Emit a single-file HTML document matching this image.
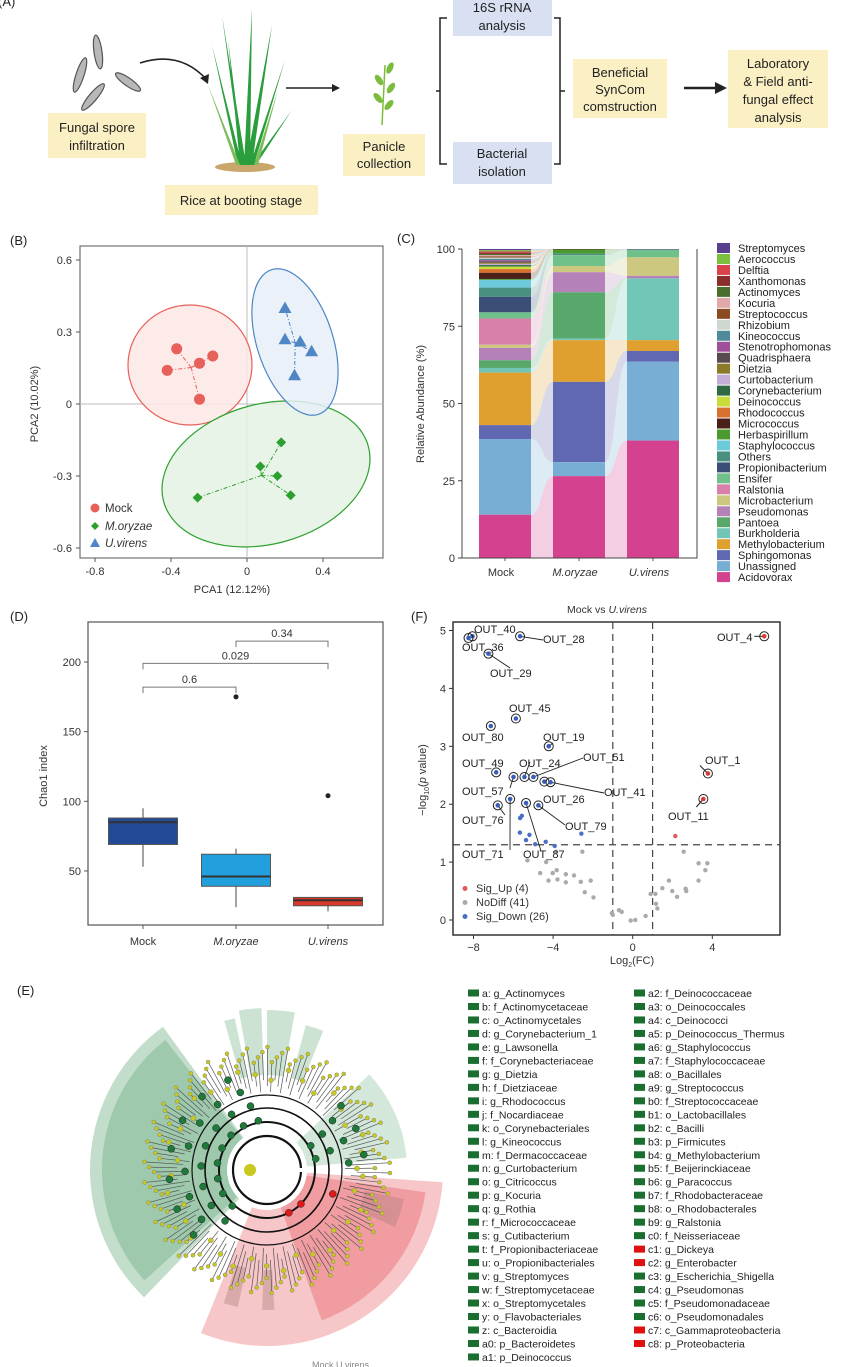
<!DOCTYPE html>
<html><head><meta charset="utf-8">
<style>
html,body{margin:0;padding:0;background:#fff;}
svg{display:block;font-family:"Liberation Sans",Arial,sans-serif;}
</style></head>
<body>
<svg id="fig" width="844" height="1367" viewBox="0 0 844 1367" xmlns="http://www.w3.org/2000/svg">
<g font-size="13" fill="#222">
  <text x="-2" y="6" font-size="13">(A)</text>
  <g fill="#b8b8b8" stroke="#555" stroke-width="1.2">
    <ellipse cx="98" cy="52" rx="4" ry="17" transform="rotate(-8 98 52)"/>
    <ellipse cx="80" cy="75" rx="4" ry="18" transform="rotate(18 80 75)"/>
    <ellipse cx="128" cy="82" rx="4" ry="15" transform="rotate(-55 128 82)"/>
    <ellipse cx="93" cy="97" rx="4" ry="17" transform="rotate(40 93 97)"/>
  </g>
  <path d="M140 63 Q180 50 207 80" fill="none" stroke="#222" stroke-width="1.5"/>
  <polygon points="208,84 200,78 209,74" fill="#222"/>
  <rect x="48" y="113" width="98" height="45" fill="#fbefc4"/>
  <text x="97" y="132" text-anchor="middle">Fungal spore</text>
  <text x="97" y="150" text-anchor="middle">infiltration</text>
  <g>
    <ellipse cx="245" cy="167" rx="30" ry="5" fill="#c9a66b"/>
    <path d="M240 165 L228 40 L244 165Z M244 165 L252 8 L250 165Z M246 165 L272 25 L252 165Z M238 165 L212 45 L242 165Z M250 165 L285 60 L254 165Z M242 165 L222 15 L246 165Z M252 165 L292 110 L256 165Z" fill="#2a9d3c"/>
    <path d="M236 165 L208 85 L240 165Z M254 165 L278 90 L258 165Z" fill="#7cbc5a"/>
  </g>
  <rect x="165" y="185" width="153" height="30" fill="#fbefc4"/>
  <text x="241" y="205" text-anchor="middle">Rice at booting stage</text>
  <line x1="286" y1="88" x2="333" y2="88" stroke="#222" stroke-width="1.5"/>
  <polygon points="340,88 332,84 332,92" fill="#222"/>
  <g fill="#7cbc3c">
    <line x1="382" y1="125" x2="385" y2="65" stroke="#7cbc3c" stroke-width="1.5"/>
    <ellipse cx="390" cy="68" rx="3" ry="6" transform="rotate(25 390 68)"/>
    <ellipse cx="379" cy="80" rx="3" ry="6" transform="rotate(-35 379 80)"/>
    <ellipse cx="391" cy="88" rx="3" ry="6" transform="rotate(35 391 88)"/>
    <ellipse cx="378" cy="98" rx="3" ry="6" transform="rotate(-40 378 98)"/>
    <ellipse cx="389" cy="105" rx="3" ry="6" transform="rotate(40 389 105)"/>
  </g>
  <rect x="343" y="134" width="82" height="42" fill="#fbefc4"/>
  <text x="384" y="151" text-anchor="middle">Panicle</text>
  <text x="384" y="168" text-anchor="middle">collection</text>
  <path d="M447 18 L440 18 L440 91 L436 91 M440 91 L440 164 L447 164" fill="none" stroke="#222" stroke-width="1.5"/>
  <path d="M554 18 L560 18 L560 91 L565 91 M560 91 L560 164 L554 164" fill="none" stroke="#222" stroke-width="1.5"/>
  <rect x="453" y="0" width="99" height="36" fill="#d8e0f2"/>
  <text x="502" y="12" text-anchor="middle">16S rRNA</text>
  <text x="502" y="30" text-anchor="middle">analysis</text>
  <rect x="453" y="142" width="99" height="42" fill="#d8e0f2"/>
  <text x="502" y="158" text-anchor="middle">Bacterial</text>
  <text x="502" y="176" text-anchor="middle">isolation</text>
  <rect x="573" y="59" width="94" height="59" fill="#fbefc4"/>
  <text x="620" y="77" text-anchor="middle">Beneficial</text>
  <text x="620" y="94" text-anchor="middle">SynCom</text>
  <text x="620" y="111" text-anchor="middle">comstruction</text>
  <line x1="684" y1="88" x2="716" y2="88" stroke="#222" stroke-width="2.5"/>
  <polygon points="727,88 715,82 715,94" fill="#222"/>
  <rect x="728" y="50" width="100" height="78" fill="#fbefc4"/>
  <text x="778" y="68" text-anchor="middle">Laboratory</text>
  <text x="778" y="86" text-anchor="middle">&amp; Field anti-</text>
  <text x="778" y="104" text-anchor="middle">fungal effect</text>
  <text x="778" y="122" text-anchor="middle">analysis</text>
</g>
<g id="gB"></g>
<g id="gC"></g>
<g id="gD"></g>
<g id="gF"></g>
<g id="gE"></g>
</svg>
<script>
const NS="http://www.w3.org/2000/svg";
function mk(parent,tag,attrs,txt){const e=document.createElementNS(NS,tag);for(const k in attrs)e.setAttribute(k,attrs[k]);if(txt!==undefined)e.textContent=txt;parent.appendChild(e);return e;}

/* ===== Panel B data ===== */
const pcaGroups=["Mock","M.oryzae","U.virens"];
const mockX=[-0.37,-0.42,-0.25,-0.18,-0.25];
const mockY=[0.23,0.14,0.17,0.20,0.02];
const moryX=[-0.26,0.07,0.18,0.16,0.23];
const moryY=[-0.39,-0.26,-0.16,-0.30,-0.38];
const uvirX=[0.20,0.20,0.28,0.34,0.25];
const uvirY=[0.40,0.27,0.26,0.22,0.12];
const pcaXTicks=[-0.8,-0.4,0,0.4];
const pcaYTicks=[0.6,0.3,0,-0.3,-0.6];

/* ===== Panel C data ===== */
const taxa=["Streptomyces","Aerococcus","Delftia","Xanthomonas","Actinomyces","Kocuria","Streptococcus","Rhizobium","Kineococcus","Stenotrophomonas","Quadrisphaera","Dietzia","Curtobacterium","Corynebacterium","Deinococcus","Rhodococcus","Micrococcus","Herbaspirillum","Staphylococcus","Others","Propionibacterium","Ensifer","Ralstonia","Microbacterium","Pseudomonas","Pantoea","Burkholderia","Methylobacterium","Sphingomonas","Unassigned","Acidovorax"];
const taxaColors=["#5b3f8f","#7bbf3f","#d9414b","#8b2d2d","#4a6e2e","#e0a8a8","#8b4a20","#cfd8d0","#4e8a9a","#a0509a","#5a4a50","#8b7a2a","#c4aed8","#2f6a45","#c8dc3c","#d87030","#4a2018","#4a9a30","#6ccada","#4a9080","#3a4e78","#70c08a","#d880aa","#ccc880","#b482b8","#58a86c","#72c6b8","#e0a030","#5f68b0","#78aed4","#d4418e"];
const abMock=[0.4,0.4,0.4,0.4,0.4,0.4,0.4,0.4,0.4,0.4,0.4,0.4,0.4,0.5,0.8,1.2,2,0.3,2.5,3,5,2,8.5,1,4,2.5,1.5,17,4.5,24.5,14];
const abMory=[0,0,0,0,0,0,0,0,0,0,0,0,0,0,0,0,0.2,1.3,0,0.5,0,3.5,0,2,6.5,15,0.5,13.5,26,4.5,26.5];
const abUvir=[0.2,0,0,0,0,0,0,0,0,0,0,0,0,0,0,0,0,0,0,0,0,2.5,0,6,0.8,0,20,3.5,3.5,25.5,38];
const abGroups=["Mock","M.oryzae","U.virens"];
const abTicks=[0,25,50,75,100];

/* ===== Panel D data ===== */
const chaoGroups=["Mock","M.oryzae","U.virens"];
const chaoMin=[53,24,21];
const chaoQ1=[69,39,25];
const chaoMed=[85,46,29];
const chaoQ3=[88,62,31];
const chaoMax=[95,66,31];
const chaoOutliers=[null,175,104];
const chaoColors=["#234a96","#22a0dd","#d8392b"];
const chaoTicks=[50,100,150,200];
const compPairs=[[0,1],[0,2],[1,2]];
const compP=["0.6","0.029","0.34"];
const compLevel=[182,199,215];

/* ===== Panel F data ===== */
const volTicksX=[-8,-4,0,4];
const volTicksY=[0,1,2,3,4,5];
const sigNames=["OUT_40","OUT_36","OUT_28","OUT_29","OUT_45","OUT_80","OUT_19","OUT_49","OUT_57","OUT_24","OUT_51","OUT_26","OUT_41","OUT_71","OUT_76","OUT_87","OUT_79"];
const sigFC=[-8.05,-8.25,-5.66,-7.25,-5.87,-7.13,-4.22,-6.86,-5.99,-5.44,-4.99,-4.44,-4.13,-6.16,-6.78,-5.36,-4.74];
const sigP=[4.9,4.87,4.9,4.6,3.48,3.35,3.0,2.55,2.47,2.47,2.47,2.39,2.38,2.09,1.98,2.02,1.98];
const upNames=["OUT_4","OUT_1","OUT_11"];
const upFC=[6.61,3.78,3.55];
const upP=[4.9,2.53,2.09];
const downFC=[-5.66,-5.57,-5.67,-5.19,-5.36,-4.9,-4.37,-3.92,-2.58];
const downP=[1.76,1.8,1.51,1.47,1.38,1.31,1.35,1.28,1.49];
const upOtherFC=[2.14];
const upOtherP=[1.45];
const nsFC=[-4.65,-4.02,-3.36,-2.95,-4.23,-3.78,-3.36,-2.61,-2.11,-2.41,-1.97,-1.05,-0.69,-0.10,0.13,0.65,0.90,1.14,1.17,1.24,1.49,1.82,1.99,2.23,2.66,2.69,2.56,3.31,3.75,3.65,3.31,-3.85,-2.53,-5.29,-4.35,-3.82,-1.0,-0.55];
const nsP=[0.81,0.81,0.79,0.77,0.68,0.70,0.65,0.66,0.68,0.48,0.39,0.12,0.17,-0.01,0.0,0.07,0.45,0.45,0.28,0.20,0.55,0.68,0.50,0.40,0.54,0.50,1.18,0.98,0.98,0.86,0.68,1.18,1.18,1.03,1.0,0.86,0.09,0.14];
const sigLabelPos=[[474,633],[462,651],[543,643],[490,677],[509,712],[462,741],[543,741],[462,767],[462,795],[519,767],[583,761],[543,803],[604,796],[462,858],[462,824],[523,858],[565,830]];
const sigLabelAnchor=[[0,0],[0,0],[543,640],[510,668],[0,0],[0,0],[553,743],[0,0],[510,788],[530,762],[583,758],[0,0],[604,793],[510,850],[505,815],[541,851],[565,825]];
const upLabelPos=[[717,641],[705,764],[668,820]];

/* ---------- Panel B ---------- */
(function(){
const g=document.getElementById("gB");
const X0=80,X1=383,Y0=246,Y1=558;
const sx=v=>247+v*190, sy=v=>404-v*240;
let t=mk(g,"text",{x:10,y:245,"font-size":13,fill:"#222"},"(B)");

let fr=mk(g,"rect",{x:X0,y:Y0,width:X1-X0,height:Y1-Y0,fill:"none",stroke:"#555","stroke-width":1});

mk(g,"line",{x1:sx(0),x2:sx(0),y1:Y0,y2:Y1,stroke:"#bbb"});
mk(g,"line",{x1:X0,x2:X1,y1:sy(0),y2:sy(0),stroke:"#bbb"});
pcaXTicks.forEach(v=>{mk(g,"line",{x1:sx(v),x2:sx(v),y1:Y1,y2:Y1+4,stroke:"#555"});
 let e=mk(g,"text",{x:sx(v),y:Y1+17,"font-size":11,"text-anchor":"middle",fill:"#333"},v===0?"0":v.toFixed(1));
 });
pcaYTicks.forEach(v=>{mk(g,"line",{x1:X0-4,x2:X0,y1:sy(v),y2:sy(v),stroke:"#555"});
 let e=mk(g,"text",{x:X0-8,y:sy(v)+4,"font-size":11,"text-anchor":"end",fill:"#333"},v===0?"0":v.toFixed(1));
 });
let xl=mk(g,"text",{x:232,y:593,"font-size":11,"text-anchor":"middle",fill:"#333"},"PCA1 (12.12%)");

let yl=mk(g,"text",{x:0,y:0,"font-size":11,"text-anchor":"middle",fill:"#333",transform:"translate(38,404) rotate(-90)"},"PCA2 (10.02%)");

const sets=[[mockX,mockY,"#e8605a","#fde8e6","circle"],[moryX,moryY,"#2ca02c","#e4f2e4","diamond"],[uvirX,uvirY,"#4f86c6","#e6eef8","tri"]];
const ell=[[190,365,62,60,0],[266,474,106,70,-15],[295,342,38,76,-18]];
sets.forEach((s,i)=>{
 const [xs,ys,c,f,sh]=s;
 let el=mk(g,"ellipse",{cx:ell[i][0],cy:ell[i][1],rx:ell[i][2],ry:ell[i][3],fill:f,"fill-opacity":0.85,stroke:c,"stroke-width":1.2,transform:`rotate(${ell[i][4]} ${ell[i][0]} ${ell[i][1]})`});
 
});
sets.forEach((s,i)=>{
 const [xs,ys,c,f,sh]=s;
 const cx=xs.reduce((a,b)=>a+b)/xs.length, cy=ys.reduce((a,b)=>a+b)/ys.length;
 xs.forEach((x,j)=>{mk(g,"line",{x1:sx(cx),y1:sy(cy),x2:sx(x),y2:sy(ys[j]),stroke:c,"stroke-width":1,"stroke-dasharray":"4 2 1 2"});});
 xs.forEach((x,j)=>{
  const px=sx(x),py=sy(ys[j]);let p;
  if(sh==="circle")p=mk(g,"circle",{cx:px,cy:py,r:5.5,fill:c});
  else if(sh==="diamond")p=mk(g,"polygon",{points:`${px},${py-5} ${px+5},${py} ${px},${py+5} ${px-5},${py}`,fill:c});
  else p=mk(g,"polygon",{points:`${px},${py-6.5} ${px+6.5},${py+5} ${px-6.5},${py+5}`,fill:c});
  
 });
});
const lg=[["Mock","circle","#e8605a",508,false],["M.oryzae","diamond","#2ca02c",526,true],["U.virens","tri","#4f86c6",543,true]];
lg.forEach(l=>{const px=95,py=l[3];
 if(l[1]==="circle")mk(g,"circle",{cx:px,cy:py,r:4.5,fill:l[2]});
 else if(l[1]==="diamond")mk(g,"polygon",{points:`${px},${py-4} ${px+4},${py} ${px},${py+4} ${px-4},${py}`,fill:l[2]});
 else mk(g,"polygon",{points:`${px},${py-5} ${px+5},${py+4} ${px-5},${py+4}`,fill:l[2]});
 let e=mk(g,"text",{x:105,y:py+4,"font-size":11.5,fill:"#333","font-style":l[4]?"italic":"normal"},l[0]);
 });
})();

/* ---------- Panel C ---------- */
(function(){
const g=document.getElementById("gC");
const X0=462,X1=697,Y0=249,Y1=558;
const sy=v=>558-v*3.09;
const barL=[479,553,627],bw=52;
let t=mk(g,"text",{x:397,y:243,"font-size":13,fill:"#222"},"(C)");

const data=[abMock,abMory,abUvir];
const stacks=data.map(arr=>{let cum=0;const lo=[],hi=[];for(let k=arr.length-1;k>=0;k--){lo[k]=cum;cum+=arr[k];hi[k]=cum;}return [lo,hi];});
for(let b=0;b<2;b++){
 for(let k=0;k<taxa.length;k++){
  const a=stacks[b],c=stacks[b+1];
  if(data[b][k]===0&&data[b+1][k]===0)continue;
  const x1=barL[b]+bw,x2=barL[b+1],m=(x1+x2)/2;
  const d=`M${x1},${sy(a[1][k])} C${m},${sy(a[1][k])} ${m},${sy(c[1][k])} ${x2},${sy(c[1][k])} L${x2},${sy(c[0][k])} C${m},${sy(c[0][k])} ${m},${sy(a[0][k])} ${x1},${sy(a[0][k])}Z`;
  let p=mk(g,"path",{d:d,fill:taxaColors[k],"fill-opacity":0.25});
  
 }
}
data.forEach((arr,b)=>{
 for(let k=0;k<arr.length;k++){ if(arr[k]===0)continue;
  let r=mk(g,"rect",{x:barL[b],y:sy(stacks[b][1][k]),width:bw,height:sy(stacks[b][0][k])-sy(stacks[b][1][k]),fill:taxaColors[k]});
  
 }
 let e=mk(g,"text",{x:barL[b]+bw/2-4,y:Y1+18,"font-size":11,"text-anchor":"middle",fill:"#333","font-style":b?"italic":"normal"},abGroups[b]);
 
 mk(g,"line",{x1:barL[b]+bw/2,x2:barL[b]+bw/2,y1:Y1,y2:Y1+3,stroke:"#555"});
});
let fr=mk(g,"path",{d:`M${X0},${Y0} L${X0},${Y1} L${X1},${Y1} L${X1},${Y0}`,fill:"none",stroke:"#444","stroke-width":1});

abTicks.forEach(v=>{mk(g,"line",{x1:X0-4,x2:X0,y1:sy(v),y2:sy(v),stroke:"#444"});
 let e=mk(g,"text",{x:X0-7,y:sy(v)+4,"font-size":11,"text-anchor":"end",fill:"#333"},String(v));
 });
let yl=mk(g,"text",{x:0,y:0,"font-size":11,"text-anchor":"middle",fill:"#333",transform:"translate(424,404) rotate(-90)"},"Relative Abundance (%)");

taxa.forEach((n,k)=>{const y=248+k*10.97;
 let r=mk(g,"rect",{x:717,y:y-5,width:13,height:10,fill:taxaColors[k]});
 
 let e=mk(g,"text",{x:738,y:y+4,"font-size":11,fill:"#222"},n);
 });
})();

/* ---------- Panel D ---------- */
(function(){
const g=document.getElementById("gD");
const X0=88,X1=383,Y0=622,Y1=925;
const sy=v=>662+(200-v)*1.393;
const cx=[143,236,328],bw=69;
let t=mk(g,"text",{x:10,y:621,"font-size":13,fill:"#222"},"(D)");

let fr=mk(g,"rect",{x:X0,y:Y0,width:X1-X0,height:Y1-Y0,fill:"none",stroke:"#555","stroke-width":1.2});

chaoTicks.forEach(v=>{mk(g,"line",{x1:X0-4,x2:X0,y1:sy(v),y2:sy(v),stroke:"#555"});
 let e=mk(g,"text",{x:X0-7,y:sy(v)+4,"font-size":11,"text-anchor":"end",fill:"#333"},String(v));
 });
let yl=mk(g,"text",{x:0,y:0,"font-size":11,"text-anchor":"middle",fill:"#333",transform:"translate(47,776) rotate(-90)"},"Chao1  index");

chaoGroups.forEach((n,i)=>{
 mk(g,"line",{x1:cx[i],x2:cx[i],y1:sy(chaoMin[i]),y2:sy(chaoMax[i]),stroke:"#666","stroke-width":1.2});
 let r=mk(g,"rect",{x:cx[i]-bw/2,y:sy(chaoQ3[i]),width:bw,height:sy(chaoQ1[i])-sy(chaoQ3[i]),fill:chaoColors[i],stroke:"#555","stroke-width":1});
 
 mk(g,"line",{x1:cx[i]-bw/2,x2:cx[i]+bw/2,y1:sy(chaoMed[i]),y2:sy(chaoMed[i]),stroke:"#333","stroke-width":2});
 if(chaoOutliers[i]!==null){let o=mk(g,"circle",{cx:cx[i],cy:sy(chaoOutliers[i]),r:2.5,fill:"#222"});}
 mk(g,"line",{x1:cx[i],x2:cx[i],y1:Y1,y2:Y1+4,stroke:"#555"});
 let e=mk(g,"text",{x:cx[i],y:Y1+20,"font-size":11,"text-anchor":"middle",fill:"#333","font-style":i?"italic":"normal"},n);
 
});
compPairs.forEach((p,i)=>{const y=sy(compLevel[i]);const a=cx[p[0]],b=cx[p[1]];
 let br=mk(g,"path",{d:`M${a},${y+6} L${a},${y} L${b},${y} L${b},${y+6}`,fill:"none",stroke:"#777","stroke-width":1});
 
 let e=mk(g,"text",{x:(a+b)/2,y:y-4,"font-size":11,"text-anchor":"middle",fill:"#333"},compP[i]);
 });
})();

/* ---------- Panel F ---------- */
(function(){
const g=document.getElementById("gF");
const X0=453,X1=780,Y0=622,Y1=935;
const sx=v=>632.7+v*19.9, sy=v=>920-v*57.9;
let t=mk(g,"text",{x:411,y:621,"font-size":13,fill:"#222"},"(F)");

let ti=mk(g,"text",{x:607,y:613,"font-size":10.5,"text-anchor":"middle",fill:"#333"},"");

mk(ti,"tspan",{},"Mock vs ");mk(ti,"tspan",{"font-style":"italic"},"U.virens");
let fr=mk(g,"rect",{x:X0,y:Y0,width:X1-X0,height:Y1-Y0,fill:"none",stroke:"#333","stroke-width":1.5});

volTicksX.forEach(v=>{mk(g,"line",{x1:sx(v),x2:sx(v),y1:Y1,y2:Y1+4,stroke:"#333"});
 let e=mk(g,"text",{x:sx(v),y:Y1+16,"font-size":11,"text-anchor":"middle",fill:"#333"},v<0?"\u2212"+(-v):String(v));
 });
volTicksY.forEach(v=>{mk(g,"line",{x1:X0-4,x2:X0,y1:sy(v),y2:sy(v),stroke:"#333"});
 let e=mk(g,"text",{x:X0-7,y:sy(v)+4,"font-size":11,"text-anchor":"end",fill:"#333"},String(v));
 });
let xl=mk(g,"text",{x:632,y:964,"font-size":11,"text-anchor":"middle",fill:"#333"},"Log");

mk(xl,"tspan",{"font-size":7,dy:3},"2");mk(xl,"tspan",{dy:-3},"(FC)");
let yl=mk(g,"text",{x:0,y:0,"font-size":11,"text-anchor":"middle",fill:"#333",transform:"translate(426,780) rotate(-90)"},"\u2212log");

mk(yl,"tspan",{"font-size":7,dy:3},"10");mk(yl,"tspan",{dy:-3},"(");mk(yl,"tspan",{"font-style":"italic"},"p");mk(yl,"tspan",{}," value)");
[[sx(-1),Y0,sx(-1),Y1],[sx(1),Y0,sx(1),Y1],[X0,sy(1.3),X1,sy(1.3)]].forEach(l=>{
 let e=mk(g,"line",{x1:l[0],y1:l[1],x2:l[2],y2:l[3],stroke:"#444","stroke-width":1.2,"stroke-dasharray":"7 5"});
 });
nsFC.forEach((v,i)=>{let c=mk(g,"circle",{cx:sx(v),cy:sy(nsP[i]),r:2.2,fill:"#aaa"});});
downFC.forEach((v,i)=>{let c=mk(g,"circle",{cx:sx(v),cy:sy(downP[i]),r:2.2,fill:"#4a6fc4"});});
upOtherFC.forEach((v,i)=>{let c=mk(g,"circle",{cx:sx(v),cy:sy(upOtherP[i]),r:2.2,fill:"#e05a5a"});});
sigFC.forEach((v,i)=>{const px=sx(v),py=sy(sigP[i]);
 const an=sigLabelAnchor[i];
 if(an[0]){mk(g,"line",{x1:px,y1:py,x2:an[0],y2:an[1],stroke:"#222","stroke-width":0.9});}
 mk(g,"circle",{cx:px,cy:py,r:4.5,fill:"none",stroke:"#222","stroke-width":1});
 let c=mk(g,"circle",{cx:px,cy:py,r:2.3,fill:"#3a5fb8"});
 let e=mk(g,"text",{x:sigLabelPos[i][0],y:sigLabelPos[i][1],"font-size":11,fill:"#222"},sigNames[i]);
 });
upFC.forEach((v,i)=>{const px=sx(v),py=sy(upP[i]);
 if(i===0)mk(g,"line",{x1:px,y1:py,x2:px-10,y2:py,stroke:"#222"});
 if(i===1)mk(g,"line",{x1:px,y1:py,x2:px-8,y2:py-8,stroke:"#222"});
 if(i===2)mk(g,"line",{x1:px,y1:py,x2:px-7,y2:py+8,stroke:"#222"});
 mk(g,"circle",{cx:px,cy:py,r:4.5,fill:"none",stroke:"#222","stroke-width":1});
 let c=mk(g,"circle",{cx:px,cy:py,r:2.3,fill:"#d83a3a"});
 let e=mk(g,"text",{x:upLabelPos[i][0],y:upLabelPos[i][1],"font-size":11,fill:"#222"},upNames[i]);
 });
[["Sig_Up (4)","#e05a5a",892],["NoDiff (41)","#aaa",906],["Sig_Down (26)","#4a6fc4",920]].forEach(l=>{
 mk(g,"circle",{cx:465,cy:l[2]-3.5,r:2.5,fill:l[1]});
 let e=mk(g,"text",{x:476,y:l[2],"font-size":11,fill:"#333"},l[0]);
 });
})();

/* ---------- Panel E ---------- */
(function(){
const g=document.getElementById("gE");
const CX=267,CY=1170;
const P=(r,d)=>[CX+r*Math.cos(d*Math.PI/180),CY-r*Math.sin(d*Math.PI/180)];
function wedge(r0,r1,a0,a1,fill,op,name){
 const p1=P(r1,a0),p2=P(r1,a1),p3=P(r0,a1),p4=P(r0,a0);const lg=(a1-a0)>180?1:0;
 let e=mk(g,"path",{d:`M${p4} L${p1} A${r1},${r1} 0 ${lg} 0 ${p2} L${p3} A${r0},${r0} 0 ${lg} 1 ${p4}Z`,fill:fill,"fill-opacity":op});
 }
let t=mk(g,"text",{x:17,y:995,"font-size":13,fill:"#222"},"(E)");

wedge(40,177,126,226,"#a9cfb5",0.7,"clade-bacteroidetes-firmicutes-bg");
wedge(40,165,128,222,"#7fb894",0.55,"clade-inner-green");
wedge(40,176,248,356,"#f4b3b6",0.75,"clade-proteobacteria-bg");
wedge(40,160,290,352,"#ec8185",0.6,"clade-gammaproteobacteria");
wedge(40,140,5,43,"#b6d7c1",0.6,"clade-actinobacteria-right");
wedge(95,150,68,75,"#b6d7c1",0.7,"clade-m");
wedge(95,160,80,90,"#b6d7c1",0.7,"clade-r");
wedge(95,162,92,100,"#b6d7c1",0.7,"clade-u");
wedge(95,155,102,106,"#b6d7c1",0.7,"clade-x");
wedge(100,140,336,348,"#b08080",0.4,"clade-c5");
wedge(100,140,268,273,"#b08080",0.4,"clade-b8");
wedge(100,140,252,258,"#b08080",0.4,"clade-b5");
mk(g,"circle",{cx:CX,cy:CY,r:34,fill:"#fff"});
[[34,2.2],[48,2],[62,1.6],[75,1.2]].forEach(a=>{let c=mk(g,"circle",{cx:CX,cy:CY,r:a[0],fill:"none",stroke:"#111","stroke-width":a[1]});});
mk(g,"rect",{x:CX+1,y:CY-2,width:40,height:4,fill:"#fff"});
for(let i=0;i<150;i++){
 const a=i*2.4+1;
 const r0=78+(i%3)*6, r1=108+((i*7)%4)*5;
 const p0=P(r0,a),p1=P(r1,a);
 mk(g,"line",{x1:p0[0],y1:p0[1],x2:p1[0],y2:p1[1],stroke:"#555","stroke-width":0.7});
 let d=mk(g,"circle",{cx:p1[0],cy:p1[1],r:2,fill:"#c8c81e",stroke:"#777","stroke-width":0.4});
 
 if(i%4===0){const pm=P(r0+12,a);mk(g,"circle",{cx:pm[0],cy:pm[1],r:2.5,fill:"#c8c81e",stroke:"#777","stroke-width":0.4});}
}
for(let i=0;i<40;i++){const a=(i<30)?(100+i*4.5):(5+(i-30)*4);
 const p=P(50+(i%4)*16,a);
 let d=mk(g,"circle",{cx:p[0],cy:p[1],r:3.5,fill:"#1e7a3a",stroke:"#222","stroke-width":0.5});
 }
[[48,297],[48,315],[70,340]].forEach(q=>{const p=P(q[0],q[1]);let d=mk(g,"circle",{cx:p[0],cy:p[1],r:3.5,fill:"#e01818",stroke:"#222","stroke-width":0.5});});
mk(g,"circle",{cx:CX-17,cy:CY,r:6,fill:"#c8c81e"});
let lb=mk(g,"text",{x:312,y:1368,"font-size":9,fill:"#888"},"Mock    U.virens");


const col1=["a: g_Actinomyces","b: f_Actinomycetaceae","c: o_Actinomycetales","d: g_Corynebacterium_1","e: g_Lawsonella","f: f_Corynebacteriaceae","g: g_Dietzia","h: f_Dietziaceae","i: g_Rhodococcus","j: f_Nocardiaceae","k: o_Corynebacteriales","l: g_Kineococcus","m: f_Dermacoccaceae","n: g_Curtobacterium","o: g_Citricoccus","p: g_Kocuria","q: g_Rothia","r: f_Micrococcaceae","s: g_Cutibacterium","t: f_Propionibacteriaceae","u: o_Propionibacteriales","v: g_Streptomyces","w: f_Streptomycetaceae","x: o_Streptomycetales","y: o_Flavobacteriales","z: c_Bacteroidia","a0: p_Bacteroidetes","a1: p_Deinococcus"];
const col2=["a2: f_Deinococcaceae","a3: o_Deinococcales","a4: c_Deinococci","a5: p_Deinococcus_Thermus","a6: g_Staphylococcus","a7: f_Staphylococcaceae","a8: o_Bacillales","a9: g_Streptococcus","b0: f_Streptococcaceae","b1: o_Lactobacillales","b2: c_Bacilli","b3: p_Firmicutes","b4: g_Methylobacterium","b5: f_Beijerinckiaceae","b6: g_Paracoccus","b7: f_Rhodobacteraceae","b8: o_Rhodobacterales","b9: g_Ralstonia","c0: f_Neisseriaceae","c1: g_Dickeya","c2: g_Enterobacter","c3: g_Escherichia_Shigella","c4: g_Pseudomonas","c5: f_Pseudomonadaceae","c6: o_Pseudomonadales","c7: c_Gammaproteobacteria","c8: p_Proteobacteria"];
const red2=[19,20,25,26];
[[col1,468],[col2,634]].forEach((c,ci)=>{c[0].forEach((s,k)=>{const y=993+k*13.48;
 let r=mk(g,"rect",{x:c[1],y:y-3.5,width:11,height:7,fill:(ci===1&&red2.includes(k))?"#e01010":"#1a6e30"});
 
 let e=mk(g,"text",{x:c[1]+14,y:y+4,"font-size":10.5,fill:"#222"},s);
 });});
})();
</script>
</body></html>
